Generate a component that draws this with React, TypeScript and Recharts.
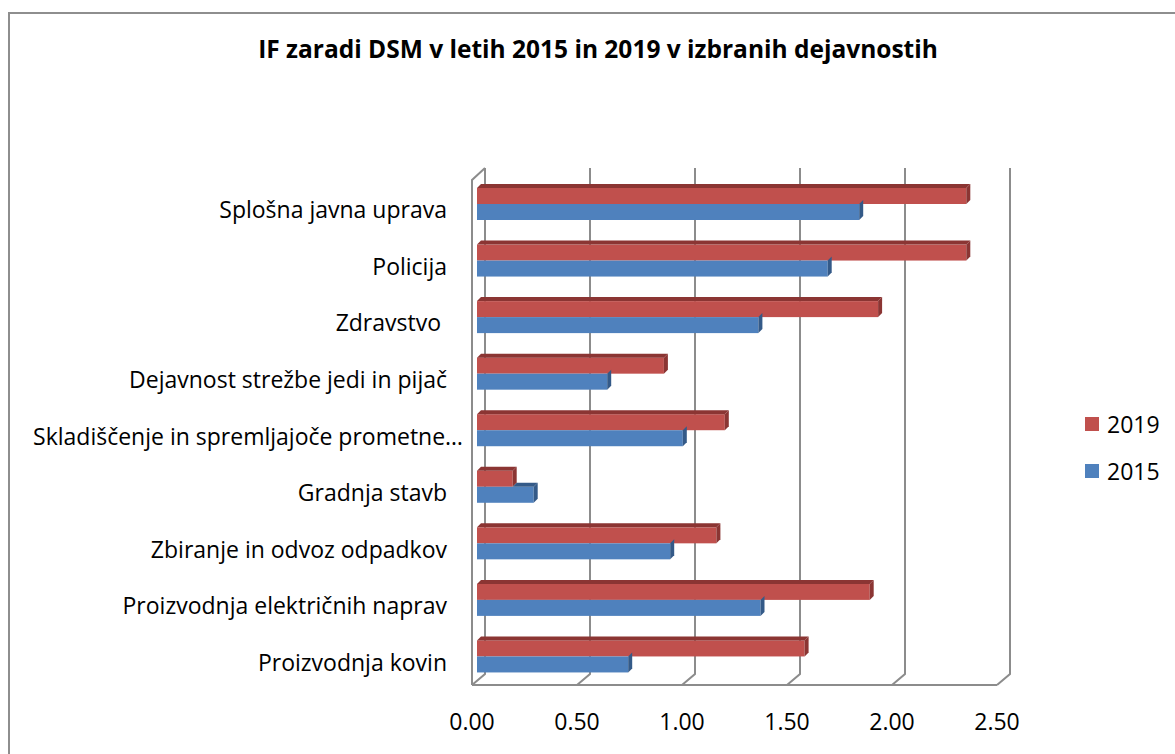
import React from 'react'
import { BarChart, Bar, XAxis, YAxis, CartesianGrid, Legend } from 'recharts'

const categories = [
  'Splošna javna uprava',
  'Policija',
  'Zdravstvo ',
  'Dejavnost strežbe jedi in pijač',
  'Skladiščenje in spremljajoče prometne…',
  'Gradnja stavb',
  'Zbiranje in odvoz odpadkov',
  'Proizvodnja električnih naprav',
  'Proizvodnja kovin',
]
const values2019 = [2.33, 2.33, 1.91, 0.89, 1.18, 0.17, 1.14, 1.87, 1.56]
const values2015 = [1.82, 1.67, 1.34, 0.62, 0.98, 0.27, 0.92, 1.35, 0.72]
const xTicks = [0, 0.5, 1, 1.5, 2, 2.5]
const seriesNames = ['2019', '2015']

const FONT = '"Open Sans", Lato, sans-serif'
const GRID = '#8c8c8c'
const DEPTH = 4
const SHIFT = 5
const LEGEND_W = 90

const data = categories.map((name, i) => ({
  name,
  v2019: values2019[i],
  v2015: values2015[i],
}))

// front face + darker top and right faces, Excel 3D style
const shape3D = (front: string, dark: string, covered: boolean) => (props: any) => {
  const { x, y, width, height, payload } = props
  const x0 = x + SHIFT
  const d = DEPTH
  let topStart = x0
  if (covered && payload.v2015 > 0) {
    topStart = x0 + Math.min(width, (width * payload.v2019) / payload.v2015)
  }
  const right = x0 + width
  return (
    <g>
      <rect x={x0} y={y} width={width} height={height} fill={front} />
      {right > topStart && (
        <polygon
          points={`${topStart},${y} ${topStart + d},${y - d} ${right + d},${y - d} ${right},${y}`}
          fill={dark}
        />
      )}
      <polygon
        points={`${right},${y} ${right + d},${y - d} ${right + d},${y + height - d} ${right},${y + height}`}
        fill={dark}
      />
    </g>
  )
}

const gridLine = (props: any) => {
  const { x1, y1, y2, index } = props
  const dx = 13
  let d = `M${x1 + dx},${y1 - 8} L${x1 + dx},${y2 - 11} L${x1},${y2}`
  if (index === 0) {
    d += ` M${x1},${y2} L${x1},${y1 + 4} L${x1 + dx},${y1 - 8}`
  }
  return <path key={`g-${index}`} d={d} stroke={GRID} strokeWidth={2} fill="none" />
}

const CategoryTick = (props: any) => {
  const { x, y, payload } = props
  // the truncated label runs a bit further right, as in Excel
  const nudge = String(payload.value).endsWith('…') ? 16 : 0
  return (
    <text
      x={x + nudge}
      y={y + 5}
      textAnchor="end"
      dominantBaseline="central"
      fontSize={23}
      fontFamily={FONT}
      fill="#000"
      style={{ whiteSpace: 'pre' }}
    >
      {payload.value}
    </text>
  )
}

const LegendBox = (props: any) => {
  const items = [...(props.payload || [])].sort(
    (a: any, b: any) => seriesNames.indexOf(a.value) - seriesNames.indexOf(b.value)
  )
  return (
    <div style={{ fontFamily: FONT, fontSize: 23 }}>
      {items.map((p: any) => (
        <div key={p.value} style={{ display: 'flex', alignItems: 'center', height: 47 }}>
          <span style={{ width: 14, height: 14, background: p.color, marginRight: 8 }} />
          <span>{p.value}</span>
        </div>
      ))}
    </div>
  )
}

export default function App() {
  return (
    <div style={{ position: 'absolute', left: 0, top: 0, width: 1175, height: 754, background: '#fff' }}>
      <div
        style={{
          position: 'absolute',
          left: 8,
          top: 12,
          width: 1200,
          height: 800,
          border: '2px solid #8e8e8e',
          boxSizing: 'border-box',
        }}
      />
      <div
        style={{
          position: 'absolute',
          left: 0,
          width: 1196,
          top: 32,
          textAlign: 'center',
          fontFamily: FONT,
          fontWeight: 'bold',
          fontSize: 24.5,
        }}
      >
        IF zaradi DSM v letih 2015 in 2019 v izbranih dejavnostih
      </div>
      <div style={{ position: 'absolute', left: 0, top: 0 }}>
        <BarChart
          width={1175}
          height={754}
          data={data}
          layout="vertical"
          margin={{ top: 176, right: 178 - LEGEND_W, bottom: 29, left: 0 }}
          barCategoryGap={12}
          barGap={0}
        >
          <CartesianGrid horizontal={false} vertical={gridLine} />
          <XAxis
            type="number"
            domain={[0, 2.5]}
            ticks={xTicks}
            tickFormatter={(v: number) => v.toFixed(2)}
            interval={0}
            height={40}
            tickLine={false}
            tickSize={0}
            tickMargin={29}
            axisLine={{ stroke: GRID, strokeWidth: 2 }}
            tick={{ fontSize: 23, fontFamily: FONT, fill: '#000' }}
          />
          <YAxis
            type="category"
            dataKey="name"
            width={472}
            axisLine={false}
            tickLine={false}
            tickSize={0}
            tickMargin={25}
            interval={0}
            tick={<CategoryTick />}
          />
          <Legend
            layout="horizontal"
            align="right"
            verticalAlign="middle"
            content={<LegendBox />}
            wrapperStyle={{ position: 'absolute', left: 1085, top: 400, width: LEGEND_W }}
          />
          <Bar
            dataKey="v2019"
            name={seriesNames[0]}
            fill="#C0504D"
            isAnimationActive={false}
            shape={shape3D('#C0504D', '#8B3533', false)}
          />
          <Bar
            dataKey="v2015"
            name={seriesNames[1]}
            fill="#4F81BD"
            isAnimationActive={false}
            shape={shape3D('#4F81BD', '#345A88', true)}
          />
        </BarChart>
      </div>
    </div>
  )
}
